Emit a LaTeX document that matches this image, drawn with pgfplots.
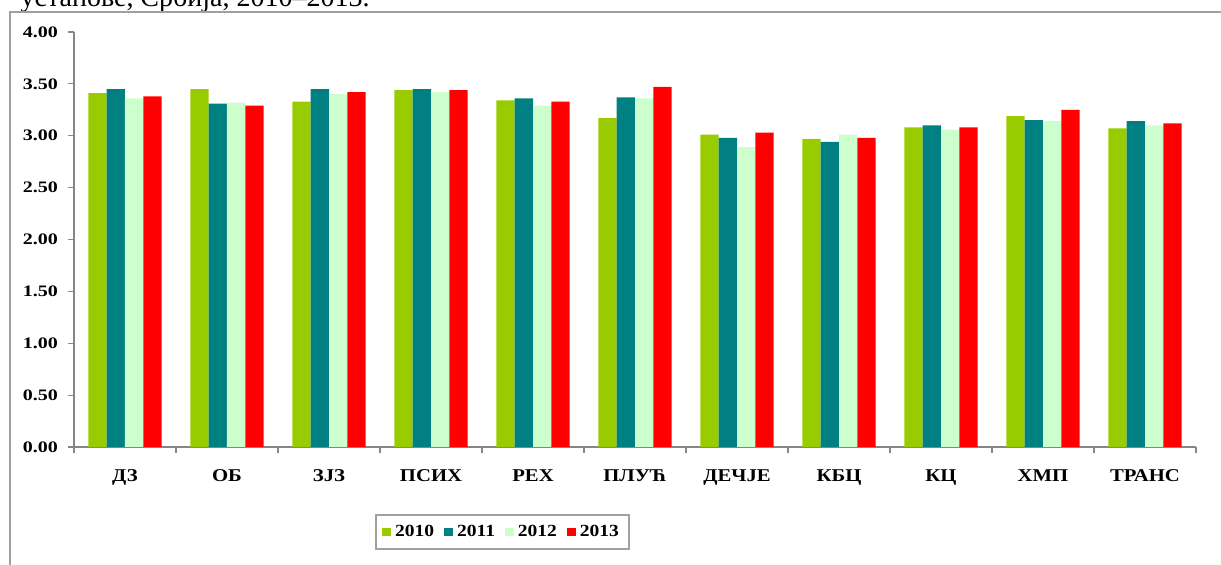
\documentclass[border=0pt]{standalone}
\usepackage{fontspec}
\setmainfont{Liberation Serif}
\usepackage{pgfplots}
\pgfplotsset{compat=1.18}
\usepackage{graphicx}

\definecolor{Y2010}{RGB}{153,204,0}
\definecolor{Y2011}{RGB}{0,128,128}
\definecolor{Y2012}{RGB}{204,255,204}
\definecolor{Y2013}{RGB}{255,0,0}
\definecolor{AxisGray}{RGB}{134,134,134}
\definecolor{FrameGray}{RGB}{160,160,160}

\newcommand\xl[1]{\scalebox{1.15}[1]{#1}}
\newcommand\yl[1]{\scalebox{1.25}[1]{#1}}

\begin{document}
\begin{tikzpicture}
% 1 px of the reference = 0.5pt, origin at the axis corner
\useasboundingbox (-37pt,-59pt) rectangle (573.5pt,223.5pt);
\begin{scope}
  \clip (-37pt,-59pt) rectangle (573.5pt,223.5pt);
  \node[anchor=base east, inner sep=0pt, font=\fontsize{14}{16}\selectfont] at (148pt,220pt) {установе, Србија, 2010–2013.};
  \draw[FrameGray, line width=0.8pt] (-32pt,-70pt) -- (-32pt,217.5pt) -- (580pt,217.5pt);
\end{scope}

\begin{axis}[
    at={(0,0)}, anchor=south west,
    scale only axis, width=561pt, height=207.5pt,
    ybar=0pt, bar width=0.18,
    xmin=-0.5, xmax=10.5, ymin=0, ymax=4,
    axis x line*=bottom, axis y line*=left,
    axis line style={AxisGray, line width=0.6pt, -},
    tick align=outside,
    xtick={0,...,10},
    xticklabels={\xl{ДЗ},\xl{ОБ},\xl{ЗЈЗ},\xl{ПСИХ},\xl{РЕХ},\xl{ПЛУЋ},\xl{ДЕЧЈЕ},\xl{КБЦ},\xl{КЦ},\xl{ХМП},\xl{ТРАНС}},
    minor xtick={-0.5,0.5,...,10.5},
    major x tick style={draw=none},
    minor x tick style={AxisGray, line width=0.6pt},
    minor tick length=3pt,
    ytick={0,0.5,...,4},
    yticklabels={\yl{0.00},\yl{0.50},\yl{1.00},\yl{1.50},\yl{2.00},\yl{2.50},\yl{3.00},\yl{3.50},\yl{4.00}},
    y tick style={AxisGray, line width=0.6pt},
    major tick length=3pt,
    xticklabel style={font=\fontsize{9}{10}\selectfont\bfseries, anchor=north, yshift=-5pt},
    yticklabel style={font=\fontsize{8}{9}\selectfont\bfseries, anchor=east, xshift=-1.5pt},
    legend columns=4,
    legend style={at={(0.382,-0.205)}, anchor=center, draw=FrameGray, line width=0.9pt,
        font=\fontsize{8.5}{10}\selectfont\bfseries, inner xsep=3pt, inner ysep=3pt,
        /tikz/every even column/.append style={column sep=3pt}},
    legend image code/.code={\fill[#1] (0pt,-2.2pt) rectangle (4.4pt,2.2pt);},
    clip=false,
]
\addplot[fill=Y2010, draw=none] coordinates {(0,3.41) (1,3.45) (2,3.33) (3,3.44) (4,3.34) (5,3.17) (6,3.01) (7,2.97) (8,3.08) (9,3.19) (10,3.07)};
\addplot[fill=Y2011, draw=none] coordinates {(0,3.45) (1,3.31) (2,3.45) (3,3.45) (4,3.36) (5,3.37) (6,2.98) (7,2.94) (8,3.10) (9,3.15) (10,3.14)};
\addplot[fill=Y2012, draw=none] coordinates {(0,3.36) (1,3.32) (2,3.40) (3,3.42) (4,3.29) (5,3.36) (6,2.89) (7,3.01) (8,3.06) (9,3.14) (10,3.10)};
\addplot[fill=Y2013, draw=none] coordinates {(0,3.38) (1,3.29) (2,3.42) (3,3.44) (4,3.33) (5,3.47) (6,3.03) (7,2.98) (8,3.08) (9,3.25) (10,3.12)};
\legend{\xl{2010},\xl{2011},\xl{2012},\xl{2013}}
\end{axis}
\end{tikzpicture}
\end{document}
